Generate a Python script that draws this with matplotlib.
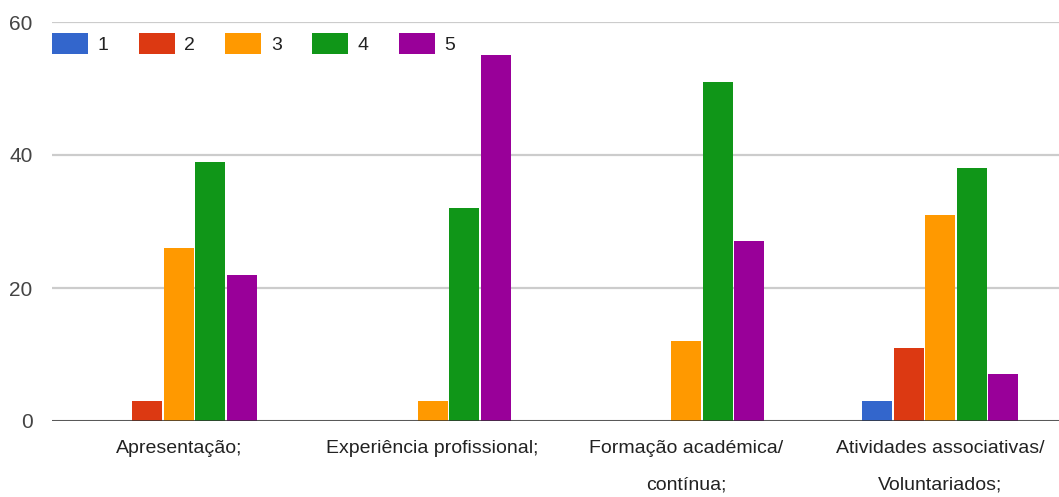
import matplotlib.pyplot as plt
import numpy as np

categories = ["Apresentação;", "Experiência profissional;",
              "Formação académica/\ncontínua;", "Atividades associativas/\nVoluntariados;"]
series_labels = ["1", "2", "3", "4", "5"]
s1 = [0, 0, 0, 3]
s2 = [3, 0, 0, 11]
s3 = [26, 3, 12, 31]
s4 = [39, 32, 51, 38]
s5 = [22, 55, 27, 7]
colors = ["#3366CC", "#DC3912", "#FF9900", "#109618", "#990099"]

plt.rcParams['font.family'] = ['Liberation Sans', 'DejaVu Sans']

fig = plt.figure(figsize=(10.59, 4.97), dpi=100)
# plot area runs off the right edge, like the original export
ax = fig.add_axes([52 / 1059, 76 / 497, 1015 / 1059, 399 / 497])

x = np.arange(len(categories))
slot = 0.124
width = 0.118
for i, vals in enumerate([s1, s2, s3, s4, s5]):
    ax.bar(x + (i - 2) * slot, vals, width, color=colors[i], label=series_labels[i], zorder=3)

ax.set_xlim(-0.5, 3.5)
ax.set_ylim(0, 60)
ax.set_yticks([0, 20, 40, 60])
ax.grid(axis='y', color='#cccccc', linewidth=1.6, zorder=0)
ax.axhline(0, color='#333333', linewidth=1.8, zorder=4)
for side in ['top', 'right', 'left', 'bottom']:
    ax.spines[side].set_visible(False)

ax.tick_params(axis='y', length=0, pad=14, labelsize=15, labelcolor='#444444')
ax.tick_params(axis='x', length=0, pad=14, labelsize=14, labelcolor='#222222')
ax.set_xticks(x)
ax.set_xticklabels(categories, linespacing=2.45)

ax.legend(loc='upper left', bbox_to_anchor=(0, 1 - 11 / 399), ncol=5, frameon=False,
          fontsize=14, handlelength=1.85, handleheight=1.3, handletextpad=0.5,
          columnspacing=1.55, borderpad=0, borderaxespad=0, labelcolor='#222222')

plt.savefig("out.png", dpi=100)
